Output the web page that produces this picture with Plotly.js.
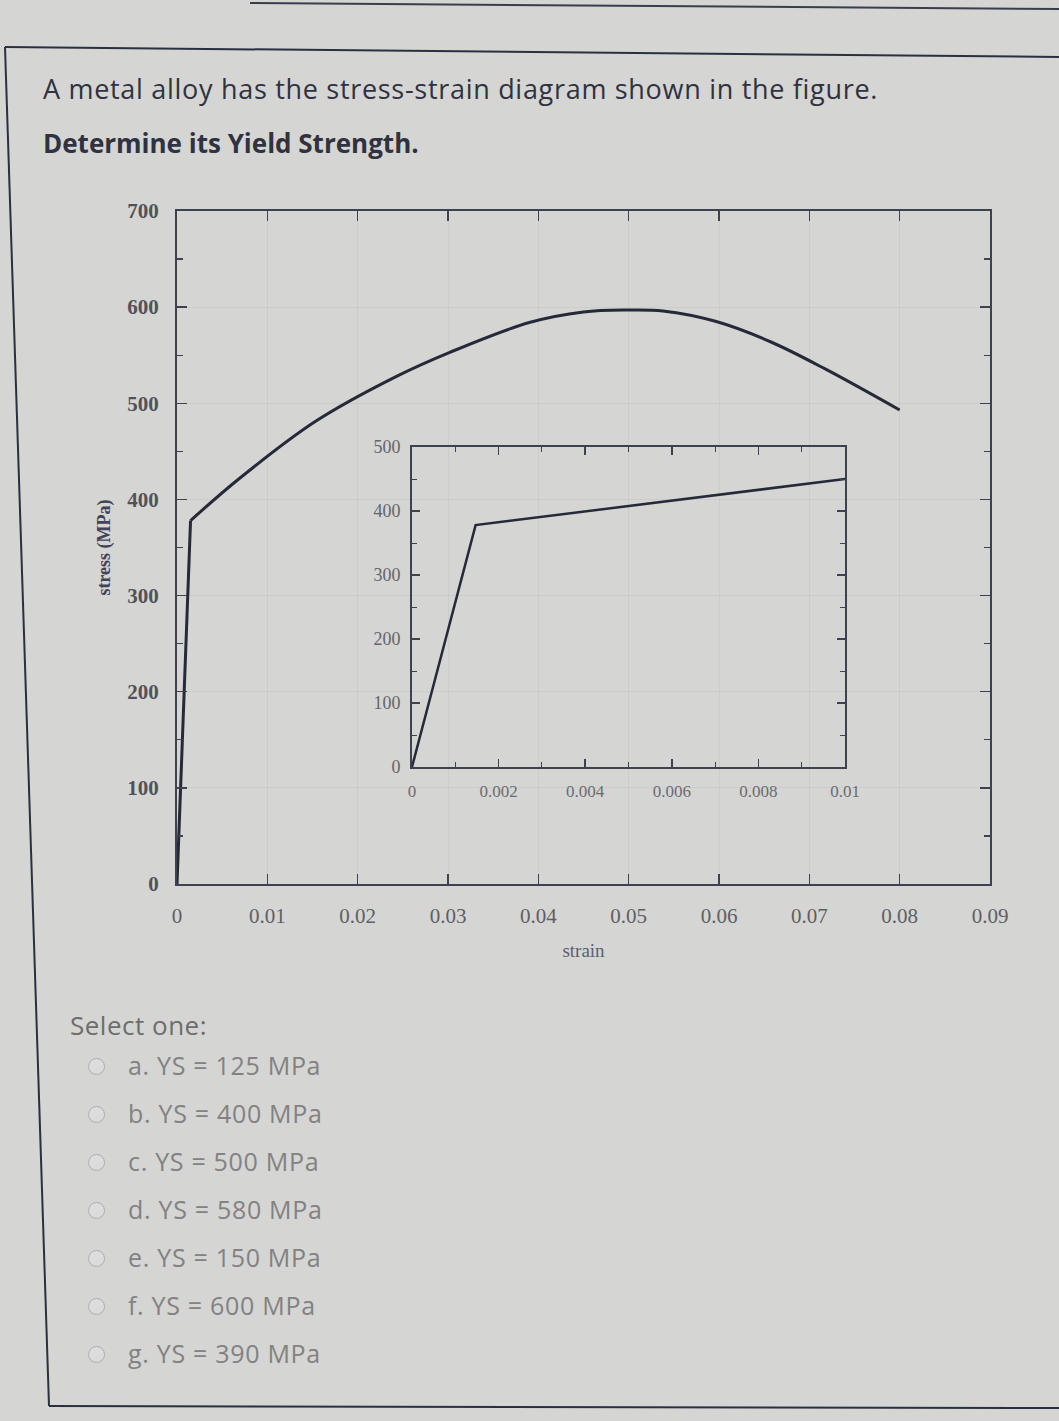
<!DOCTYPE html>
<html><head><meta charset="utf-8">
<script src="https://cdn.plot.ly/plotly-3.0.1.min.js"></script>
<style>
html,body{margin:0;padding:0;}
body{width:1059px;height:1421px;background:#d5d5d3;position:relative;overflow:hidden;font-family:"Open Sans",sans-serif;}
#frame{position:absolute;left:0;top:0;}
.q{position:absolute;left:43px;white-space:nowrap;color:#30323f;line-height:30px;}
#q1{top:74px;font-size:27px;letter-spacing:0.7px;}
#q2{top:128px;font-size:26px;font-weight:700;}
#chart{position:absolute;left:0;top:170px;width:1059px;height:810px;}
#sel{position:absolute;left:70px;top:1010px;font-size:26px;letter-spacing:0.5px;color:#6d6d6d;line-height:30px;white-space:nowrap;}
.opt{position:absolute;left:128px;font-size:25px;letter-spacing:0.7px;color:#828282;line-height:30px;white-space:nowrap;}
.radio{position:absolute;left:88px;width:15px;height:15px;border-radius:50%;border:1.5px solid #adadad;background:#dcdcdc;}
</style></head><body>
<svg id="frame" width="1059" height="1421">
  <line x1="250" y1="3" x2="1059" y2="9" stroke="#3a3e4c" stroke-width="2"/>
  <line x1="5" y1="47" x2="1059" y2="57" stroke="#2b3040" stroke-width="2"/>
  <line x1="5" y1="47" x2="49" y2="1406" stroke="#2b3040" stroke-width="2"/>
  <line x1="49" y1="1406" x2="1059" y2="1408" stroke="#2b3040" stroke-width="2"/>
</svg>
<div id="q1" class="q">A metal alloy has the stress-strain diagram shown in the figure.</div>
<div id="q2" class="q">Determine its Yield Strength.</div>
<div id="chart"></div>
<div id="sel">Select one:</div>
<div id="opts"></div>
<script>
// ---- data ----
const mainStrain = [0, 0.0015, 0.0068, 0.0153, 0.0243, 0.0302, 0.0390, 0.0450, 0.0497, 0.0538, 0.0597, 0.0657, 0.0717, 0.0800];
const mainStress = [0, 378, 421, 481, 528, 553, 584, 595, 597, 596, 585, 564, 536, 493];
const insetStrain = [0, 0.00147, 0.01];
const insetStress = [0, 378, 450];

const mainXTicks = [0, 0.01, 0.02, 0.03, 0.04, 0.05, 0.06, 0.07, 0.08, 0.09];
const mainXLabels = ['0', '0.01', '0.02', '0.03', '0.04', '0.05', '0.06', '0.07', '0.08', '0.09'];
const mainYTicks = [0, 100, 200, 300, 400, 500, 600, 700];
const mainYLabels = ['0', '100', '200', '300', '400', '500', '600', '700'];
const insetXTicks = [0, 0.002, 0.004, 0.006, 0.008, 0.01];
const insetXLabels = ['0', '0.002', '0.004', '0.006', '0.008', '0.01'];
const insetYTicks = [0, 100, 200, 300, 400, 500];
const insetYLabels = ['0', '100', '200', '300', '400', '500'];

const optionLabels = ['a. YS = 125 MPa', 'b. YS = 400 MPa', 'c. YS = 500 MPa', 'd. YS = 580 MPa',
                      'e. YS = 150 MPa', 'f. YS = 600 MPa', 'g. YS = 390 MPa'];

// ---- options list ----
const optsDiv = document.getElementById('opts');
optionLabels.forEach((t, i) => {
  const top = 1050 + 48 * i;
  const r = document.createElement('div');
  r.className = 'radio';
  r.style.top = (top + 8) + 'px';
  optsDiv.appendChild(r);
  const d = document.createElement('div');
  d.className = 'opt';
  d.style.top = top + 'px';
  d.textContent = t;
  optsDiv.appendChild(d);
});

// ---- chart ----
const lineCol = '#262a38';
const axCol = '#3d4150';
const serif = 'Liberation Serif, Times New Roman, serif';
const axBase = {
  showline: true, linecolor: axCol, linewidth: 2, mirror: 'ticks',
  ticks: 'inside', tickcolor: axCol, tickwidth: 1.5, zeroline: false,
  fixedrange: true, tickmode: 'array'
};

const traces = [
  {x: mainStrain.slice(0, 2), y: mainStress.slice(0, 2), mode: 'lines',
   line: {color: lineCol, width: 3}, xaxis: 'x', yaxis: 'y', hoverinfo: 'skip', showlegend: false},
  {x: mainStrain.slice(1), y: mainStress.slice(1), mode: 'lines',
   line: {color: lineCol, width: 3, shape: 'spline', smoothing: 1}, xaxis: 'x', yaxis: 'y', hoverinfo: 'skip', showlegend: false},
  {x: insetStrain, y: insetStress, mode: 'lines',
   line: {color: lineCol, width: 2.5}, xaxis: 'x2', yaxis: 'y2', hoverinfo: 'skip', showlegend: false}
];

const layout = {
  width: 1059, height: 810,
  margin: {l: 177, r: 69, t: 41, b: 96},
  paper_bgcolor: 'rgba(0,0,0,0)', plot_bgcolor: 'rgba(0,0,0,0)',
  showlegend: false,
  xaxis: Object.assign({}, axBase, {
    domain: [0, 1], range: [0, 0.09], tickvals: mainXTicks, ticktext: mainXLabels,
    ticklen: 10, ticklabelstandoff: 12, anchor: 'y',
    tickfont: {family: serif, size: 21, color: '#5d5f66'},
    showgrid: true, gridcolor: 'rgba(60,60,70,0.06)',
    title: {text: 'strain', font: {family: serif, size: 19, color: '#5a5f72'}, standoff: 16}
  }),
  yaxis: Object.assign({}, axBase, {
    domain: [0, 1], range: [0, 700], tickvals: mainYTicks, ticktext: mainYLabels,
    ticklen: 10, ticklabelstandoff: 12, anchor: 'x',
    minor: {tickmode: 'linear', tick0: 0, dtick: 50, ticks: 'inside', ticklen: 6, tickcolor: axCol, tickwidth: 1.2, showgrid: false},
    tickfont: {family: serif, size: 21, color: '#505259', weight: 'bold'},
    showgrid: true, gridcolor: 'rgba(60,60,70,0.06)',
    title: {text: 'stress (MPa)', font: {family: serif, size: 18, color: '#3f4458', weight: 'bold'}, standoff: 12}
  }),
  xaxis2: Object.assign({}, axBase, {
    domain: [0.289, 0.8217], range: [0, 0.01], tickvals: insetXTicks, ticktext: insetXLabels,
    anchor: 'y2', ticklen: 8, ticklabelstandoff: 8, linewidth: 1.8,
    minor: {tickmode: 'linear', tick0: 0, dtick: 0.001, ticks: 'inside', ticklen: 5, tickcolor: axCol, tickwidth: 1, showgrid: false},
    tickfont: {family: serif, size: 17, color: '#6a6c72'}, showgrid: false
  }),
  yaxis2: Object.assign({}, axBase, {
    domain: [0.1738, 0.6493], range: [0, 500], tickvals: insetYTicks, ticktext: insetYLabels,
    anchor: 'x2', ticklen: 8, ticklabelstandoff: 6, linewidth: 1.8,
    minor: {tickmode: 'linear', tick0: 0, dtick: 50, ticks: 'inside', ticklen: 5, tickcolor: axCol, tickwidth: 1, showgrid: false},
    tickfont: {family: serif, size: 18, color: '#63656c'}, showgrid: false
  })
};

Plotly.newPlot('chart', traces, layout, {displayModeBar: false, staticPlot: true});
</script>
</body></html>
